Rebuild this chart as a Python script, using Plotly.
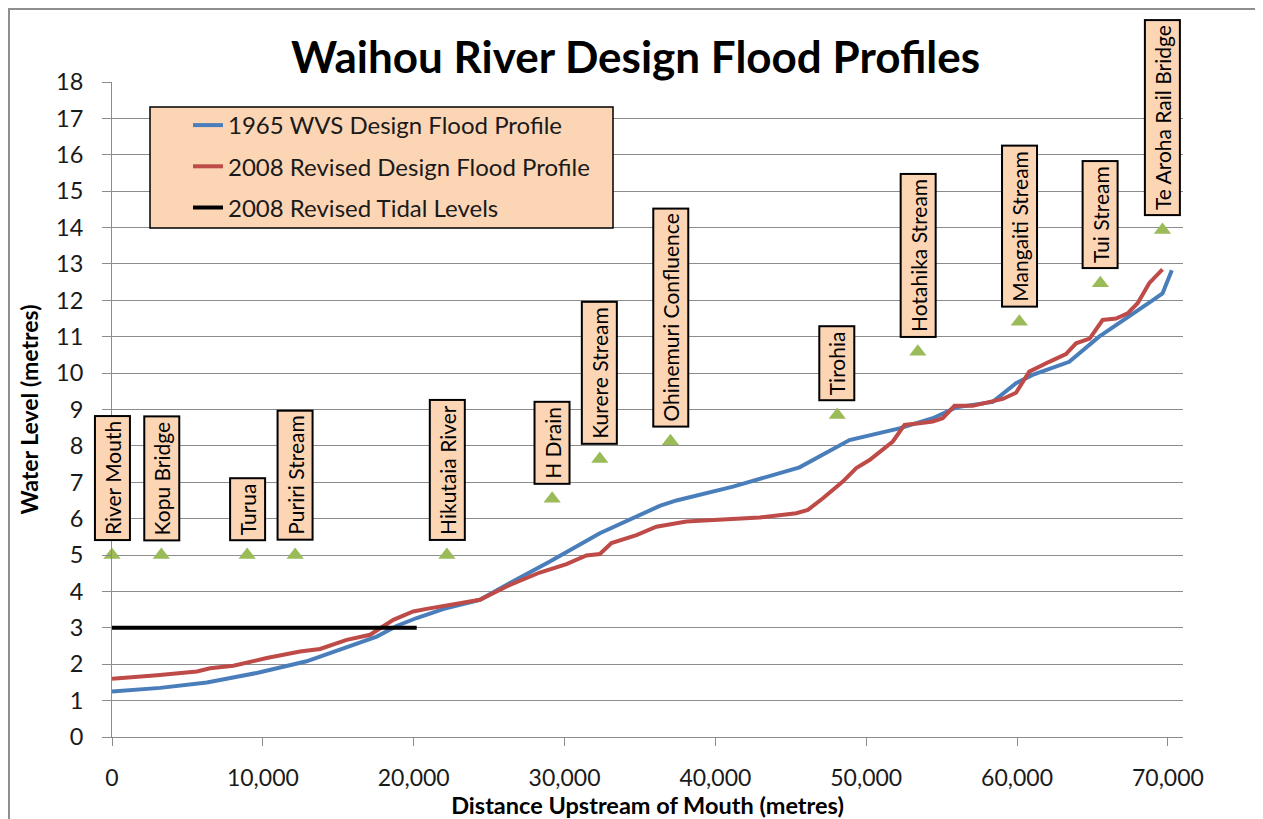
import plotly.graph_objects as go

# ---------------- data ----------------
dist_1965 = [0, 3200, 6290, 9600, 12900, 15780, 17550, 18870, 20200, 22000, 24390, 26380,
             29030, 32340, 36310, 37420, 41170, 45580, 47790, 48890, 52200, 54410, 55960,
             58390, 59930, 61030, 63460, 65440, 68980, 69640, 70260]
level_1965 = [1.25, 1.35, 1.50, 1.76, 2.08, 2.49, 2.76, 3.05, 3.27, 3.52, 3.77, 4.23,
              4.82, 5.60, 6.35, 6.50, 6.88, 7.41, 7.89, 8.16, 8.48, 8.76, 9.06,
              9.21, 9.72, 9.95, 10.31, 11.00, 12.00, 12.19, 12.83]

dist_2008 = [0, 1430, 3000, 5630, 6510, 8050, 10260, 12470, 13790, 15560, 17110, 18650,
             19970, 20860, 22500, 24390, 26380, 28360, 30130, 31450, 32340, 33110, 34770,
             36090, 38080, 40500, 42930, 45360, 46130, 47130, 48450, 49340, 50220, 51760,
             52540, 53540, 54410, 55070, 55850, 57060, 58390, 59050, 59930, 60810, 62130,
             63240, 63910, 64810, 65670, 66560, 67330, 67990, 68760, 69640]
level_2008 = [1.60, 1.64, 1.70, 1.80, 1.89, 1.96, 2.17, 2.35, 2.42, 2.67, 2.81, 3.22,
              3.45, 3.52, 3.63, 3.77, 4.18, 4.52, 4.75, 4.99, 5.03, 5.33, 5.55,
              5.78, 5.92, 5.97, 6.03, 6.15, 6.24, 6.56, 7.02, 7.39, 7.61, 8.12,
              8.58, 8.62, 8.67, 8.76, 9.10, 9.10, 9.21, 9.29, 9.46, 10.04, 10.31,
              10.52, 10.82, 10.95, 11.46, 11.50, 11.64, 11.92, 12.47, 12.85]

dist_tidal = [0, 20200]
level_tidal = [3.0, 3.0]

site_names = ["River Mouth", "Kopu Bridge", "Turua", "Puriri Stream", "Hikutaia River",
              "H Drain", "Kurere Stream", "Ohinemuri Confluence", "Tirohia",
              "Hotahika Stream", "Mangaiti Stream", "Tui Stream", "Te Aroha Rail Bridge"]
site_dist = [0, 3270, 8960, 12140, 22200, 29180, 32340, 37020, 48080, 53420, 60150, 65520, 69640]
site_level = [5.0, 5.0, 5.0, 5.0, 5.0, 6.55, 7.64, 8.13, 8.85, 10.59, 11.41, 12.47, 13.93]

x_ticks = [0, 10000, 20000, 30000, 40000, 50000, 60000, 70000]
x_tick_text = ["0", "10,000", "20,000", "30,000", "40,000", "50,000", "60,000", "70,000"]
y_ticks = list(range(0, 19))

series_names = ["1965 WVS Design Flood Profile", "2008 Revised Design Flood Profile",
                "2008 Revised Tidal Levels"]

# ---------------- styling ----------------
FONT = "Lato"
BLUE = "#4A7EBB"
RED = "#BE4B48"
GREEN = "#9BBB59"
PEACH = "#FCD5B5"
GRID = "#8C8C8C"

OFF = 8                      # page body margin
W, H = 1255, 811             # figure size (page is 1263 x 819)
L, R, T, B = 104, 80, 74, 82
PW, PH = W - L - R, H - T - B


def px_x(page_x):
    return (page_x - OFF - L) / PW


def px_y(page_y):
    return (H - B - (page_y - OFF)) / PH


fig = go.Figure()
fig.add_trace(go.Scatter(x=dist_1965, y=level_1965, mode="lines", name=series_names[0],
                         line=dict(color=BLUE, width=4), legendgroup="a"))
fig.add_trace(go.Scatter(x=dist_2008, y=level_2008, mode="lines", name=series_names[1],
                         line=dict(color=RED, width=4), legendgroup="b"))
fig.add_trace(go.Scatter(x=dist_tidal, y=level_tidal, mode="lines", name=series_names[2],
                         line=dict(color="black", width=4), legendgroup="c"))
fig.add_trace(go.Scatter(x=site_dist, y=site_level, mode="markers", showlegend=False,
                         marker=dict(symbol="triangle-up", size=15, color=GREEN),
                         cliponaxis=False))

for name, xv, yv in zip(site_names, site_dist, site_level):
    fig.add_annotation(x=xv, y=yv, xref="x", yref="y", text=name, showarrow=False,
                       textangle=-90, xanchor="center", yanchor="bottom", yshift=14,
                       bgcolor=PEACH, bordercolor="black", borderwidth=2, borderpad=4,
                       font=dict(family=FONT, size=21, color="black"))

# legend box
fig.add_shape(type="rect", xref="paper", yref="paper",
              x0=px_x(150), x1=px_x(613), y0=px_y(228), y1=px_y(107),
              fillcolor=PEACH, line=dict(color="black", width=1.5), layer="above")
# outer chart border
fig.add_shape(type="rect", xref="paper", yref="paper",
              x0=px_x(OFF + 1), x1=px_x(1257), y0=px_y(860), y1=px_y(OFF + 1),
              fillcolor="rgba(0,0,0,0)", line=dict(color="#8E8E8E", width=2), layer="below")

fig.update_layout(
    width=W, height=H,
    margin=dict(l=L, r=R, t=T, b=B, autoexpand=False),
    paper_bgcolor="white", plot_bgcolor="white",
    font=dict(family=FONT, color="black"),
    title=dict(text="<b>Waihou River Design Flood Profiles</b>", x=0.5, xref="container",
               y=1 - (58 - OFF) / H, yref="container", xanchor="center", yanchor="middle",
               font=dict(family=FONT, size=44, color="black")),
    legend=dict(x=px_x(188), y=px_y(103), xanchor="left", yanchor="top",
                bgcolor="rgba(0,0,0,0)", borderwidth=0, tracegroupgap=7,
                traceorder="grouped", font=dict(family=FONT, size=24, color="#1a1a1a")),
    showlegend=True,
)

fig.update_xaxes(range=[0, 71000], tickvals=x_ticks, ticktext=x_tick_text, automargin=False,
                 showgrid=False, zeroline=False, showline=True, linecolor=GRID, linewidth=1,
                 ticks="outside", ticklen=8, tickcolor=GRID, ticklabelstandoff=12,
                 tickfont=dict(family=FONT, size=23, color="#1a1a1a"),
                 title=dict(text="<b>Distance Upstream of Mouth (metres)</b>", standoff=2,
                            font=dict(family=FONT, size=23.5, color="black")))
fig.update_yaxes(range=[0, 18], tickvals=y_ticks, automargin=False,
                 showgrid=True, gridcolor=GRID, gridwidth=1, zeroline=False,
                 showline=True, linecolor=GRID, linewidth=1,
                 ticks="outside", ticklen=9, tickcolor=GRID, ticklabelstandoff=14,
                 tickfont=dict(family=FONT, size=23.5, color="#1a1a1a"),
                 title=dict(text="<b>Water Level (metres)</b>", standoff=10,
                            font=dict(family=FONT, size=23, color="black")))

fig.write_html("out.html")
